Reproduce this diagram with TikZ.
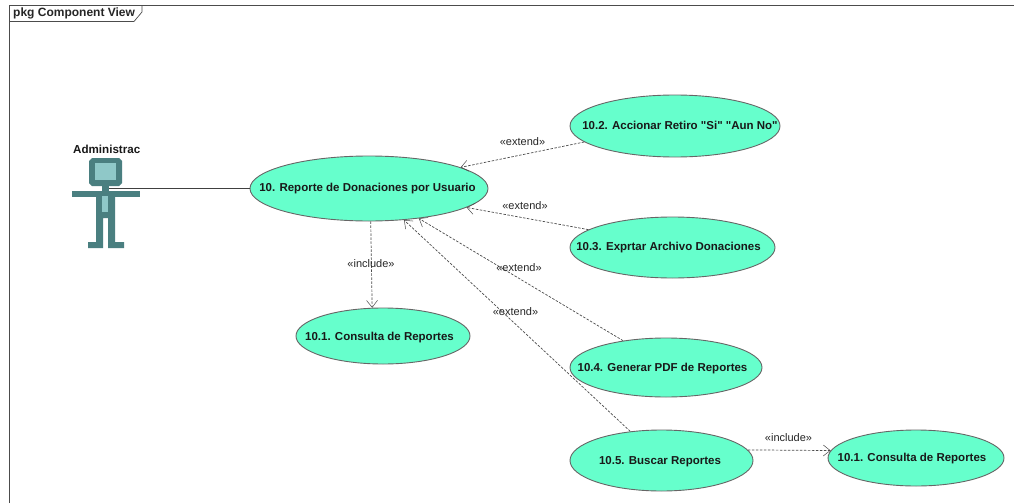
\documentclass[tikz,border=0pt]{standalone}
\usepackage{fontspec}
\setmainfont{Liberation Sans}[Ligatures=TeXOff]
\usetikzlibrary{
  shapes.geometric,
  arrows.meta
}
\tikzset{
  every usecase/.style={draw=black!60,fill=ucgreen,shape=ellipse,inner sep=0pt,line width=0.9pt},
  usecase name/.style={font=\fontsize{11.5}{13}\bfseries,text=black!90,inner sep=0pt},
  stereotype/.style={font=\fontsize{11}{12}\selectfont,text=black!85,inner sep=0pt},
  dep line/.style={draw=black!70,dashed,dash pattern=on 2.5pt off 1.5pt,line width=0.7pt,-{Straight Barb[length=7pt,width=11pt,line width=0.5pt]}},
  actor dark/.style={fill=actorteal,draw=none},
  actor light/.style={fill=actorpale,draw=none},
}
\definecolor{ucgreen}{HTML}{66FFCC}
\definecolor{actorteal}{HTML}{4A7F80}
\definecolor{actorpale}{HTML}{8FC8C8}

\begin{document}
\begin{tikzpicture}[x=1pt,y=-1pt]
\useasboundingbox[fill=white] (0,0) rectangle (1014,503);

% frame
\draw[black!70,line width=0.8pt] (9.5,503) -- (9.5,5.5) -- (1014,5.5);
\draw[black!70,line width=0.7pt] (9.5,21.5) -- (134,21.5) -- (142,12) -- (142,5.5);
\node[font=\fontsize{12}{13}\bfseries,text=black!85,inner sep=0pt,anchor=west] (frame title) at (13,13.5) {pkg Component View};

% actor
\node[font=\fontsize{11.6}{13}\bfseries,text=black!90,inner sep=0pt,anchor=west] (actor name) at (73,149.5) {Administrac};
\fill[actor dark] (92,158) -- (119,158) -- (122,161) -- (122,183) -- (119,186) -- (92,186) -- (89,183) -- (89,161) -- cycle;
\fill[actor light] (95,163) rectangle (116,180);
\fill[actor dark] (102,186) rectangle (109,191);
\fill[actor dark] (72,191) rectangle (140,197);
\fill[actor dark] (96,197) -- (115,197) -- (115,242) -- (124,242) -- (124,248) -- (108,248) -- (108,218) -- (103,218) -- (103,248) -- (88,248) -- (88,242) -- (96,242) -- cycle;
\fill[actor light] (102,196) rectangle (108,212);
\coordinate (actor) at (109,188.5);

% use cases
\node[every usecase,minimum width=238pt,minimum height=65pt,label={[usecase name,xshift=-1.5pt,yshift=-0.5pt]center:10. Reporte de Donaciones por Usuario}] (uc-main) at (369,188.5) {};
\node[every usecase,minimum width=210pt,minimum height=62pt,label={[usecase name,xshift=5pt,yshift=0.5pt]center:10.2. Accionar Retiro "Si" "Aun No"}] (uc-retiro) at (675,126) {};
\node[every usecase,minimum width=205pt,minimum height=61pt,label={[usecase name,xshift=-4pt]center:10.3. Exprtar Archivo Donaciones}] (uc-archivo) at (672.5,247.5) {};
\node[every usecase,minimum width=192pt,minimum height=59pt,label={[usecase name,xshift=-3.5pt,yshift=-1pt]center:10.4. Generar PDF de Reportes}] (uc-pdf) at (666,367.5) {};
\node[every usecase,minimum width=174pt,minimum height=56pt,label={[usecase name,xshift=-3.5pt,yshift=-1.5pt]center:10.1. Consulta de Reportes}] (uc-consulta-a) at (383,336) {};
\node[every usecase,minimum width=183pt,minimum height=61pt,label={[usecase name,xshift=-1.5pt,yshift=-1pt]center:10.5. Buscar Reportes}] (uc-buscar) at (661.5,460.5) {};
\node[every usecase,minimum width=176pt,minimum height=56pt,label={[usecase name,xshift=-4pt,yshift=-0.5pt]center:10.1. Consulta de Reportes}] (uc-consulta-b) at (916,458) {};

% connectors
\draw[black!75,line width=0.8pt] (actor) -- (uc-main.west);
\draw[dep line] (uc-retiro.190) -- (uc-main.13);
\draw[dep line] (uc-archivo.168) -- (uc-main.-11);
\draw[dep line] (uc-pdf.148) -- (uc-main.-31);
\draw[dep line] (uc-buscar.137) -- (uc-main.-42);
\draw[dep line] (uc-main.-87) -- (uc-consulta-a.111);
\draw[dep line] (uc-buscar.7.4) -- (uc-consulta-b.175.5);

% stereotypes
\node[stereotype] (ext-retiro) at (522.5,142) {«extend»};
\node[stereotype] (ext-archivo) at (525,205.5) {«extend»};
\node[stereotype] (ext-pdf) at (519,267.5) {«extend»};
\node[stereotype] (ext-buscar) at (515.5,312) {«extend»};
\node[stereotype] (inc-consulta) at (371,263.5) {«include»};
\node[stereotype] (inc-buscar) at (788.5,438) {«include»};
\end{tikzpicture}
\end{document}
